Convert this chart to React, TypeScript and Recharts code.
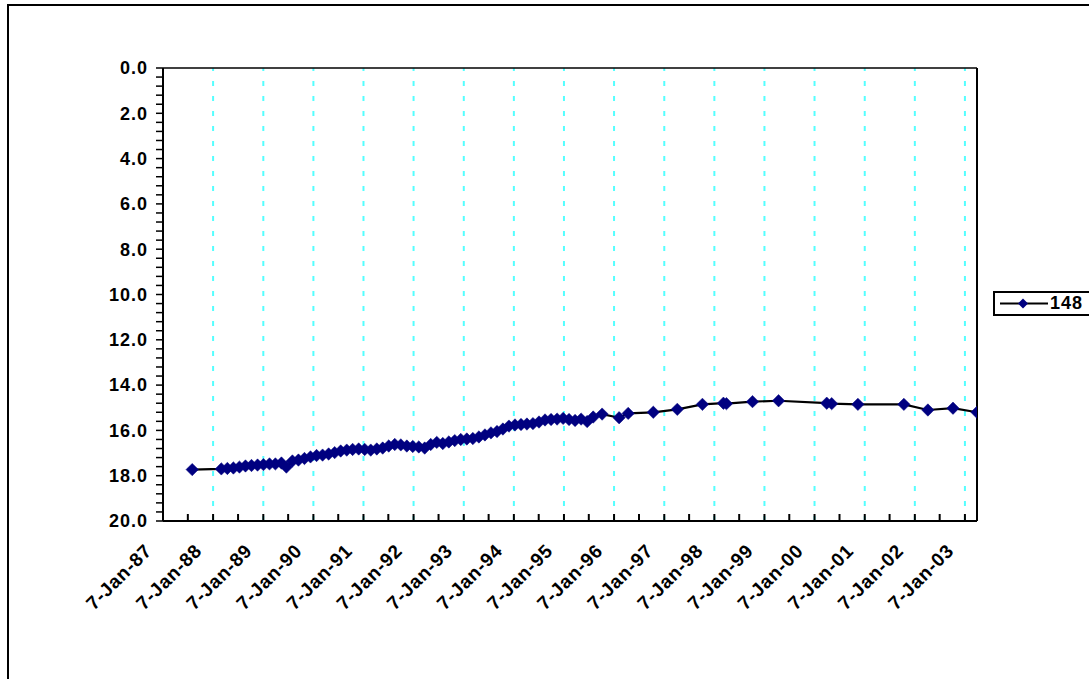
import React from 'react'
import { LineChart, Line, XAxis, YAxis, ReferenceLine } from 'recharts'

// observation dates and readings (depth, axis reversed)
const dates = [
  '1987-08-08', '1988-03-07', '1988-04-20', '1988-06-03', '1988-07-17', '1988-08-30', '1988-10-13', '1988-11-26',
  '1989-01-08', '1989-02-21', '1989-04-05', '1989-05-19', '1989-06-24', '1989-08-07', '1989-09-20', '1989-11-03', '1989-12-17',
  '1990-01-30', '1990-03-15', '1990-04-28', '1990-06-11', '1990-07-25', '1990-09-07', '1990-10-20', '1990-12-03',
  '1991-01-16', '1991-03-01', '1991-04-14', '1991-05-27', '1991-07-10', '1991-08-23', '1991-10-06', '1991-11-19',
  '1992-01-01', '1992-02-14', '1992-03-28', '1992-05-11', '1992-06-24', '1992-08-07', '1992-09-20', '1992-11-02', '1992-12-16',
  '1993-01-29', '1993-03-14', '1993-04-27', '1993-06-10', '1993-07-24', '1993-09-06', '1993-10-19', '1993-12-02',
  '1994-01-15', '1994-02-28', '1994-04-12', '1994-05-26', '1994-07-09', '1994-08-22', '1994-10-05', '1994-11-18',
  '1995-01-01', '1995-02-13', '1995-03-29', '1995-05-12', '1995-06-25', '1995-08-08', '1995-10-12',
  '1996-02-13', '1996-04-19', '1996-10-19', '1997-04-12', '1997-10-12', '1998-03-14', '1998-04-05', '1998-10-12',
  '1999-04-20', '2000-04-05', '2000-05-11', '2000-11-18', '2001-10-19', '2002-04-12', '2002-10-12', '2003-04-05',
]

const values148 = [
  17.73, 17.70, 17.68, 17.66, 17.62, 17.57, 17.55, 17.53,
  17.51, 17.48, 17.48, 17.44, 17.62, 17.35, 17.31, 17.24, 17.17,
  17.11, 17.09, 17.04, 16.98, 16.91, 16.87, 16.84, 16.82,
  16.84, 16.87, 16.82, 16.78, 16.69, 16.62, 16.64, 16.69,
  16.71, 16.73, 16.78, 16.62, 16.53, 16.58, 16.51, 16.45, 16.40,
  16.38, 16.36, 16.29, 16.20, 16.11, 16.05, 15.94, 15.81,
  15.76, 15.74, 15.72, 15.70, 15.63, 15.54, 15.52, 15.50,
  15.47, 15.52, 15.56, 15.50, 15.61, 15.41, 15.28,
  15.44, 15.25, 15.20, 15.07, 14.85, 14.80, 14.82, 14.73,
  14.69, 14.80, 14.82, 14.85, 14.85, 15.10, 15.02, 15.20,
]

const tickYears = [1987, 1988, 1989, 1990, 1991, 1992, 1993, 1994, 1995, 1996, 1997, 1998, 1999, 2000, 2001, 2002, 2003]
const yMajorTicks = [0, 2, 4, 6, 8, 10, 12, 14, 16, 18, 20]

const data = dates.map((d, i) => ({ t: Date.parse(d), v: values148[i] }))

const xMax = data[data.length - 1].t
const majorX = tickYears.map((y) => Date.UTC(y, 0, 7))
const minorX = tickYears.map((y) => Date.UTC(y, 6, 7)).filter((t) => t <= xMax)
const xTicks = [...majorX, ...minorX].sort((a, b) => a - b)

// minor ticks every 0.4 on the value axis
const yTicks: number[] = []
for (let i = 0; i <= 50; i++) yTicks.push(Math.round(i * 4) / 10)

const font = '"Liberation Sans", Arial, sans-serif'
const NAVY = '#000080'
const CYAN = '#55ffff'

const XTick = (props: any) => {
  const { x, y, payload } = props
  const d = new Date(payload.value)
  const major = d.getUTCMonth() === 0
  const yy = String(d.getUTCFullYear() % 100).padStart(2, '0')
  const tx = x - 10
  const ty = y + 31
  return (
    <g>
      <line x1={x} y1={y} x2={x} y2={y - 7} stroke="#000" strokeWidth={2} />
      {major && (
        <text
          x={tx}
          y={ty}
          textAnchor="end"
          transform={`rotate(-45 ${tx} ${ty})`}
          fontFamily={font}
          fontWeight="bold"
          fontSize={19}
          letterSpacing={0.8}
          fill="#000"
        >
          {`7-Jan-${yy}`}
        </text>
      )}
    </g>
  )
}

const Diamond = (props: any) => {
  const { cx, cy, index } = props
  if (cx == null || cy == null) return <g key={`d${index}`} />
  const r = 6.2
  return (
    <polygon
      key={`d${index}`}
      points={`${cx},${cy - r} ${cx + r},${cy} ${cx},${cy + r} ${cx - r},${cy}`}
      fill={NAVY}
      stroke={NAVY}
      strokeWidth={0.5}
    />
  )
}

export default function App() {
  return (
    <div style={{ position: 'absolute', left: 0, top: 0, width: 1089, height: 679, overflow: 'hidden', background: '#fff' }}>
      <div
        style={{
          position: 'absolute', left: 7, top: 4, width: 1200, height: 800,
          border: '2px solid #000', boxSizing: 'border-box',
        }}
      />
      <div style={{ position: 'absolute', left: 0, top: 0 }}>
        <LineChart width={1089} height={679} data={data} margin={{ top: 68, right: 112, bottom: 58, left: 103 }}>
          <XAxis
            dataKey="t"
            type="number"
            domain={[majorX[0], xMax]}
            ticks={xTicks}
            interval={0}
            tick={<XTick />}
            tickLine={false}
            tickSize={0}
            tickMargin={0}
            height={100}
            axisLine={{ stroke: '#000', strokeWidth: 2 }}
            allowDataOverflow
          />
          <YAxis
            type="number"
            reversed
            domain={[0, 20]}
            ticks={yTicks}
            interval={0}
            width={60}
            tickSize={7}
            tickMargin={8}
            tickFormatter={(v: number) => (yMajorTicks.includes(v) ? v.toFixed(1) : '')}
            tick={{ fill: '#000', fontFamily: font, fontWeight: 'bold', fontSize: 18, letterSpacing: 1 }}
            tickLine={{ stroke: '#000', strokeWidth: 1.5 }}
            axisLine={{ stroke: '#000', strokeWidth: 2 }}
          />
          {majorX.slice(1).map((t) => (
            <ReferenceLine key={t} x={t} stroke={CYAN} strokeWidth={2} strokeDasharray="5 10" />
          ))}
          <ReferenceLine y={0} stroke="#000" strokeWidth={1.5} />
          <ReferenceLine y={20} stroke="#000" strokeWidth={2} />
          <ReferenceLine x={xMax} stroke="#000" strokeWidth={2} />
          <Line
            dataKey="v"
            type="linear"
            stroke="#000"
            strokeWidth={2.2}
            dot={Diamond}
            activeDot={false}
            isAnimationActive={false}
          />
        </LineChart>
      </div>
      <div
        style={{
          position: 'absolute', left: 993, top: 291, width: 140, height: 25,
          border: '2px solid #000', boxSizing: 'border-box', background: '#fff',
          fontFamily: font, fontWeight: 'bold', fontSize: 18,
        }}
      >
        <svg width={60} height={21} style={{ position: 'absolute', left: 0, top: 0 }}>
          <line x1={5} y1={10.5} x2={53} y2={10.5} stroke="#000" strokeWidth={2} />
          <polygon points="28,5.5 33,10.5 28,15.5 23,10.5" fill={NAVY} />
        </svg>
        <span style={{ position: 'absolute', left: 55, top: 0, lineHeight: '21px', letterSpacing: 1 }}>148</span>
      </div>
    </div>
  )
}
